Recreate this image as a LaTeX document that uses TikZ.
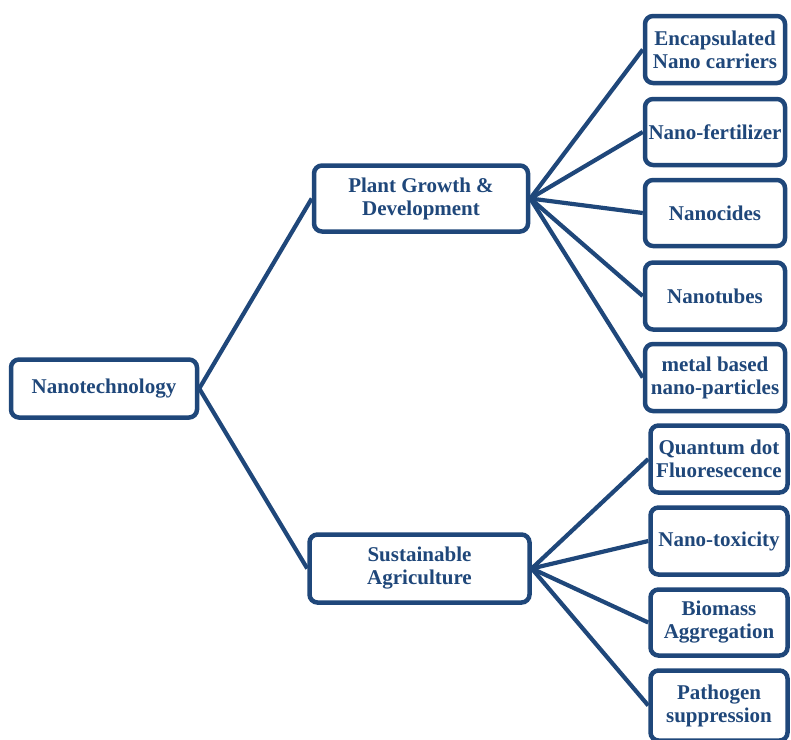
\documentclass[tikz,border=0pt]{standalone}
\usepackage{fontspec}
\setmainfont{Liberation Serif}
\definecolor{navy}{RGB}{31,71,122}
\begin{document}
\begin{tikzpicture}[x=1pt,y=-1pt,
  box/.style={draw=navy,line width=4.5pt,rounded corners=8pt,fill=white,
    text=navy,font=\fontsize{21}{23}\selectfont\bfseries,align=center,
    inner sep=0pt,minimum width=#1},
  box/.default=140pt,
  link/.style={draw=navy,line width=4.2pt}]
\useasboundingbox (0,0) rectangle (791,739);
\node[box=186pt,minimum height=58pt] (nano) at (104,388.5) {Nanotechnology};
\node[box=214pt,minimum height=66pt] (plant) at (421,198.5) {Plant Growth \&\\Development};
\node[box=220pt,minimum height=68pt] (sust) at (419.5,568.5) {Sustainable\\Agriculture};
\node[box,minimum height=67pt] (enc) at (715,49.5) {Encapsulated\\Nano carriers};
\node[box,minimum height=66pt] (fert) at (715,132) {Nano-fertilizer};
\node[box,minimum height=66pt] (cide) at (715,213) {Nanocides};
\node[box,minimum height=67pt] (tube) at (715,296) {Nanotubes};
\node[box,minimum height=67pt] (metal) at (715,377.5) {metal based\\nano-particles};
\node[box=137pt,minimum height=67pt] (qd) at (719,459) {Quantum dot\\Fluoresecence};
\node[box=137pt,minimum height=67pt] (tox) at (719,541) {Nano-toxicity};
\node[box=137pt,minimum height=66pt] (bio) at (719,622.5) {Biomass\\Aggregation};
\node[box=137pt,minimum height=70pt] (path) at (719,705.5) {Pathogen\\suppression};
\draw[link] (nano.east) -- (plant.west);
\draw[link] (nano.east) -- (sust.west);
\foreach \t in {enc,fert,cide,tube,metal} \draw[link] (plant.east) -- (\t.west);
\foreach \t in {qd,tox,bio,path} \draw[link] (sust.east) -- (\t.west);
\end{tikzpicture}
\end{document}
